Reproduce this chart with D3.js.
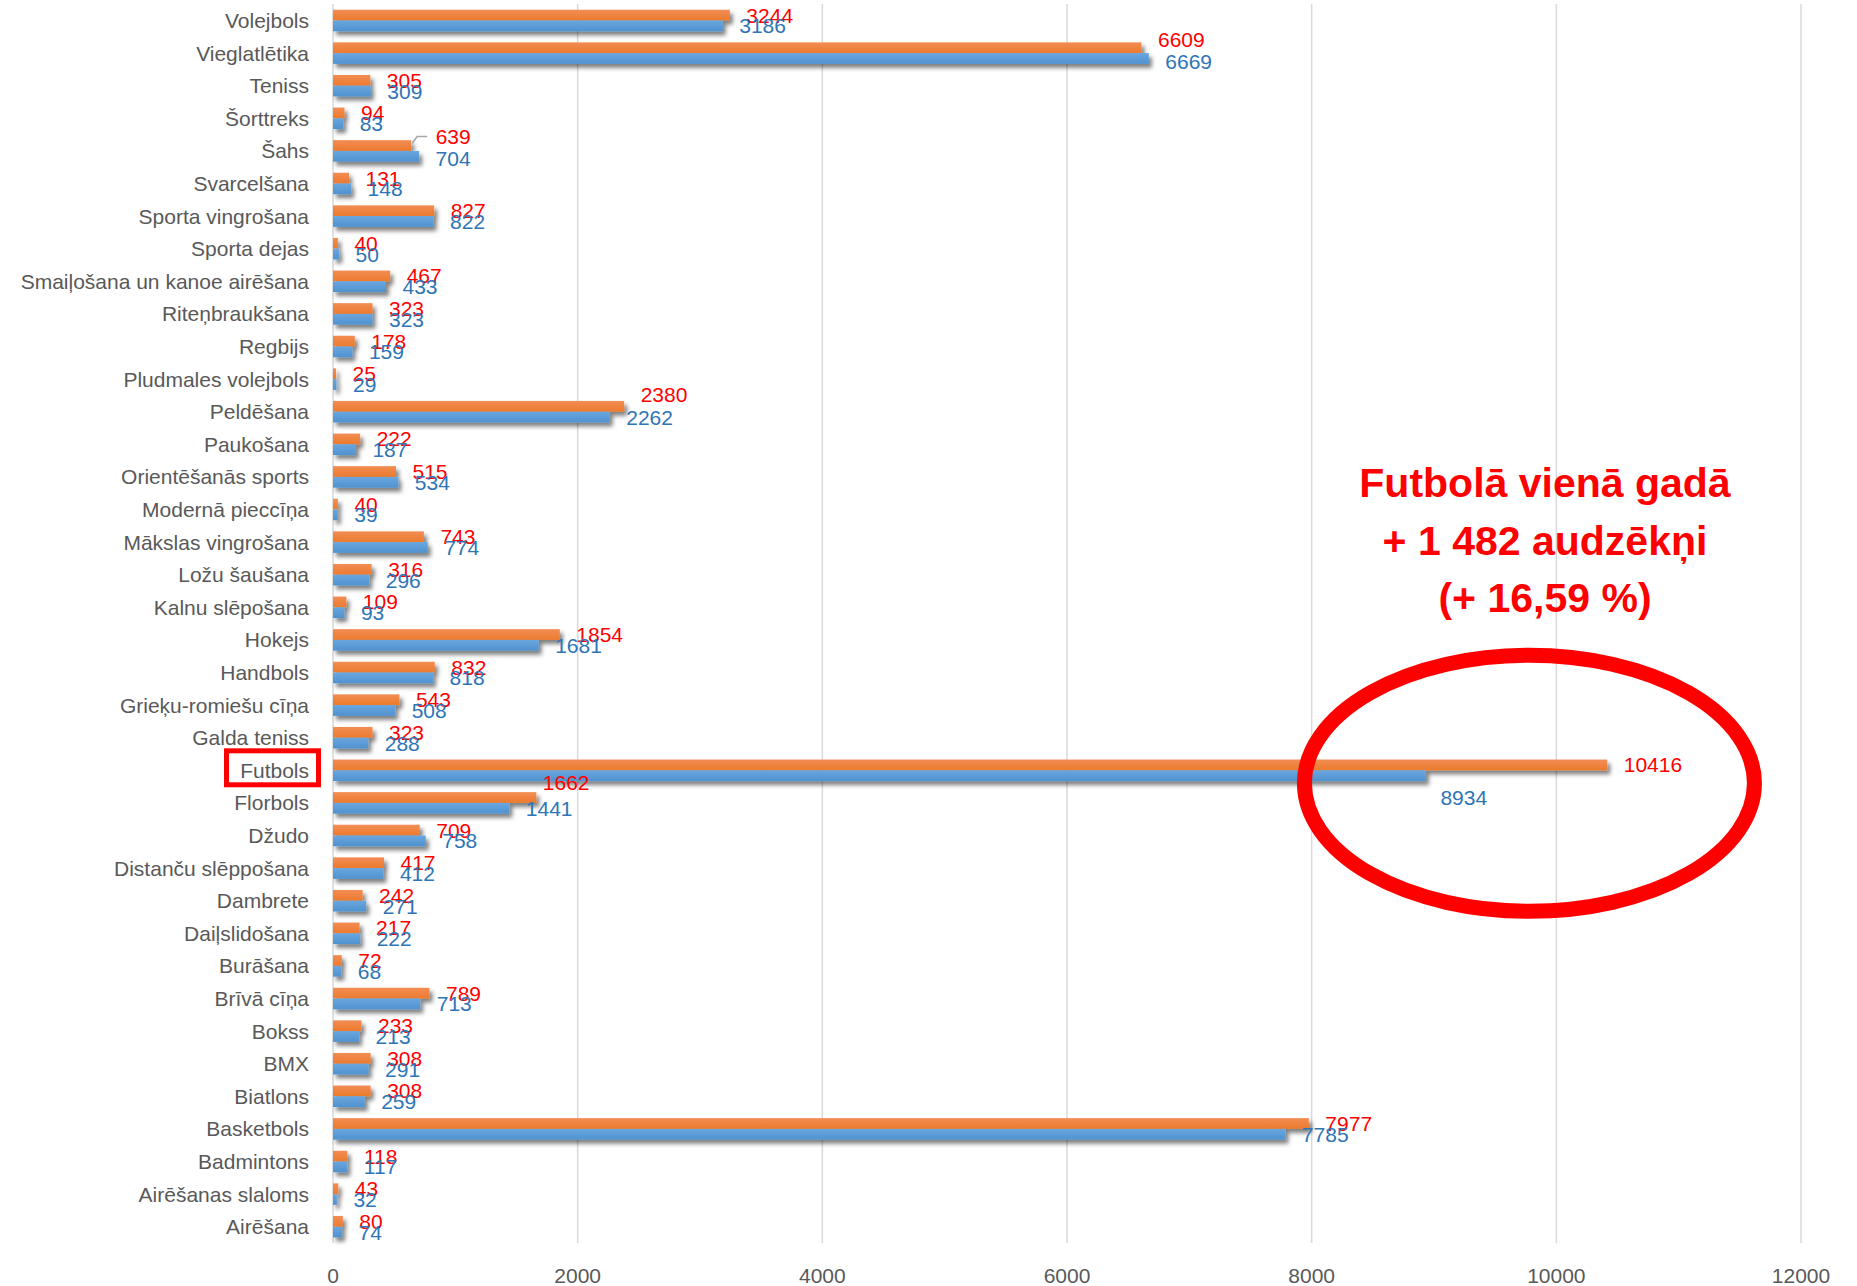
<!DOCTYPE html>
<html lang="lv">
<head><meta charset="utf-8"/>
<style>
body { margin:0; background:#fff; }
text { font-family: "Liberation Sans", Arial, sans-serif; }
.grid line { stroke:#d9d9d9; stroke-width:1.5px; }
.cat { fill:#595959; font-size:21px; }
.tick-lbl { fill:#595959; font-size:21px; }
.lbl { font-size:21px; }
</style>
</head>
<body>
<svg id="chart" width="1857" height="1286"></svg>

<script src="https://cdnjs.cloudflare.com/ajax/libs/d3/7.8.5/d3.min.js"></script>
<script>

var sports = ["Volejbols","Vieglatlētika","Teniss","Šorttreks","Šahs","Svarcelšana",
	"Sporta vingrošana","Sporta dejas","Smaiļošana un kanoe airēšana","Riteņbraukšana",
	"Regbijs","Pludmales volejbols","Peldēšana","Paukošana","Orientēšanās sports",
	"Modernā pieccīņa","Mākslas vingrošana","Ložu šaušana","Kalnu slēpošana","Hokejs",
	"Handbols","Grieķu-romiešu cīņa","Galda teniss","Futbols","Florbols","Džudo",
	"Distanču slēppošana","Dambrete","Daiļslidošana","Burāšana","Brīvā cīņa","Bokss",
	"BMX","Biatlons","Basketbols","Badmintons","Airēšanas slaloms","Airēšana"];

// orange bars (red labels)
var newYear = [3244,6609,305,94,639,131,827,40,467,323,178,25,2380,222,515,40,743,316,
	109,1854,832,543,323,10416,1662,709,417,242,217,72,789,233,308,308,7977,118,43,80];

// blue bars (blue labels)
var oldYear = [3186,6669,309,83,704,148,822,50,433,323,159,29,2262,187,534,39,774,296,
	93,1681,818,508,288,8934,1441,758,412,271,222,68,713,213,291,259,7785,117,32,74];

var xTicks = [0,2000,4000,6000,8000,10000,12000];

var noteLines = ["Futbolā vienā gadā", "+ 1 482 audzēkņi", "(+ 16,59 %)"];

// labels that were dragged by hand in the original
var nudge = {
	"Vieglatlētika": {o:[0,-8], b:[0,3]},
	"Šahs": {o:[8,-9], b:[0,2], leader:true},
	"Peldēšana": {o:[0,-12]},
	"Futbols": {b:[-2,22]},
	"Florbols": {o:[-10,-15]}
};

var svg = d3.select("#chart");
var x = d3.scaleLinear().domain([0,12000]).range([333,1801]);
var y = d3.scaleBand().domain(sports).range([4.2,1243]).paddingInner(0.34).paddingOuter(0.17);
var inner = d3.scaleBand().domain(["new","old"]).range([0,y.bandwidth()]);

var defs = svg.append("defs");
var sh = defs.append("filter").attr("id","shadow")
	.attr("x","-5%").attr("y","-50%").attr("width","115%").attr("height","250%");
sh.append("feDropShadow").attr("dx",3).attr("dy",4).attr("stdDeviation",2.2)
	.attr("flood-color","#000").attr("flood-opacity",0.5);

function grad(id, c1, c2){
	var g = defs.append("linearGradient").attr("id",id)
		.attr("x1",0).attr("y1",0).attr("x2",0).attr("y2",1);
	g.append("stop").attr("offset","0%").attr("stop-color",c1);
	g.append("stop").attr("offset","100%").attr("stop-color",c2);
}
grad("gOrange","#f28d55","#ec7a2c");
grad("gBlue","#6aa6de","#4f92d0");

svg.append("rect").attr("width",1857).attr("height",1286).attr("fill","#fff");

// gridlines
svg.append("g").attr("class","grid")
	.selectAll("line").data(xTicks).enter().append("line")
	.attr("x1",d=>x(d)).attr("x2",d=>x(d))
	.attr("y1",4).attr("y2",1243);

// tick labels
svg.append("g").selectAll("text").data(xTicks).enter().append("text")
	.attr("class","tick-lbl")
	.attr("x",d=>x(d)).attr("y",1282.5)
	.attr("text-anchor","middle")
	.text(d=>d);

// category labels
svg.append("g").selectAll("text").data(sports).enter().append("text")
	.attr("class","cat")
	.attr("x",309).attr("y",d=>y(d)+y.bandwidth()/2+7.5)
	.attr("text-anchor","end")
	.text(d=>d);

var rows = sports.map((s,i) => ({name:s, nv:newYear[i], ov:oldYear[i]}));

var bars = svg.append("g").attr("filter","url(#shadow)");
bars.selectAll(".bo").data(rows).enter().append("rect")
	.attr("x",x(0)).attr("y",d=>y(d.name)+inner("new"))
	.attr("width",d=>x(d.nv)-x(0)).attr("height",inner.bandwidth())
	.attr("fill","url(#gOrange)");
bars.selectAll(".bb").data(rows).enter().append("rect")
	.attr("x",x(0)).attr("y",d=>y(d.name)+inner("old"))
	.attr("width",d=>x(d.ov)-x(0)).attr("height",inner.bandwidth())
	.attr("fill","url(#gBlue)");

function shift(d, k){
	return (nudge[d.name] && nudge[d.name][k]) || [0,0];
}

// leader line for Šahs
rows.filter(d=>nudge[d.name] && nudge[d.name].leader).forEach(function(d){
	var s = shift(d,"o");
	var cy = y(d.name)+inner("new")+inner.bandwidth()/2;
	var x0 = x(d.nv);
	svg.append("path")
		.attr("d", d3.line()([[x0+1,cy-2],[x0+6,cy+s[1]],[x0+16+s[0]-8,cy+s[1]]]))
		.attr("fill","none").attr("stroke","#a6a6a6").attr("stroke-width",1.5);
});

// value labels: red first, blue drawn over it
svg.append("g").selectAll("text").data(rows).enter().append("text")
	.attr("class","lbl").attr("fill","#ff0000")
	.attr("x",d=>x(d.nv)+16.5+shift(d,"o")[0])
	.attr("y",d=>y(d.name)+inner("new")+inner.bandwidth()/2+7.5+shift(d,"o")[1])
	.text(d=>d.nv);
svg.append("g").selectAll("text").data(rows).enter().append("text")
	.attr("class","lbl").attr("fill","#2e75b6")
	.attr("x",d=>x(d.ov)+16.5+shift(d,"b")[0])
	.attr("y",d=>y(d.name)+inner("old")+inner.bandwidth()/2+7.5+shift(d,"b")[1])
	.text(d=>d.ov);

// highlight box around Futbols
var fy = y("Futbols")+y.bandwidth()/2;
svg.append("rect")
	.attr("x",226.5).attr("y",fy-19.5).attr("width",92).attr("height",34)
	.attr("fill","none").attr("stroke","#ff0000").attr("stroke-width",5);

// ellipse
svg.append("ellipse")
	.attr("cx",x(9780)).attr("cy",fy+13).attr("rx",225).attr("ry",128)
	.attr("fill","none").attr("stroke","#ff0000").attr("stroke-width",15);

// note
svg.append("g").selectAll("text").data(noteLines).enter().append("text")
	.attr("x",1545).attr("y",(d,i)=>497+i*57.5)
	.attr("text-anchor","middle")
	.attr("fill","#ff0000").attr("font-weight","bold").attr("font-size","41px")
	.text(d=>d);

</script>
</body>
</html>
